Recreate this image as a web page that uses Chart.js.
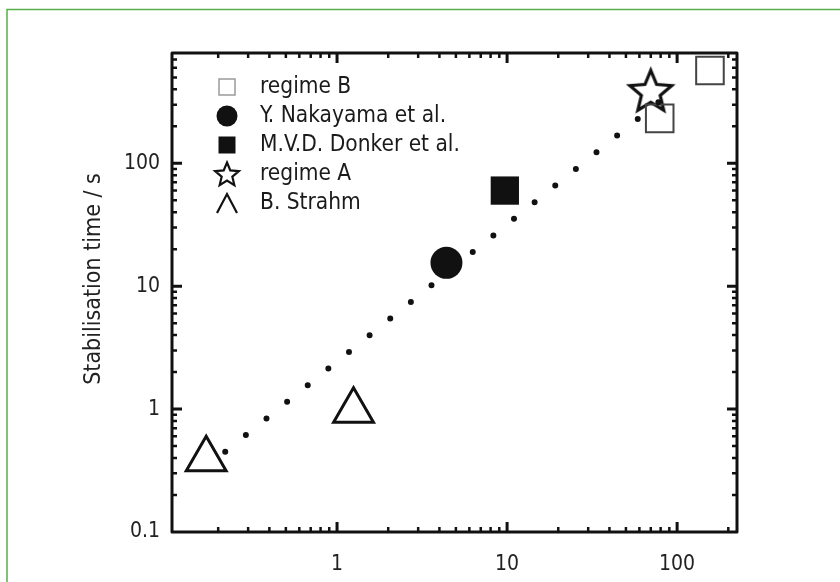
<!DOCTYPE html>
<html>
<head>
<meta charset="utf-8">
<script src="https://cdn.jsdelivr.net/npm/chart.js@4.4.1/dist/chart.umd.min.js"></script>
<style>
  html, body { margin: 0; padding: 0; background: #fff; }
  #wrap { position: relative; width: 840px; height: 582px; }
</style>
</head>
<body>
<div id="wrap"><canvas id="chart" width="840" height="582"></canvas></div>
<script>
// data (x and y both log)
const seriesLabels = ["regime B", "Y. Nakayama et al.", "M.V.D. Donker et al.", "regime A", "B. Strahm"];
const regimeB  = [{x: 156, y: 570}, {x: 79, y: 232}];
const nakayama = [{x: 4.4, y: 15.5}];
const donker   = [{x: 9.7, y: 60}];
const regimeA  = [{x: 70, y: 378}];
const strahm   = [{x: 0.17, y: 0.39}, {x: 1.25, y: 0.97}];
const fitLine  = [{x: 0.22, y: 0.45}, {x: 90, y: 370}];

const xRange = [0.107, 225];
const yRange = [0.1, 790];
const xMajor = [1, 10, 100];
const yMajor = [0.1, 1, 10, 100];
const xMinor = [0.2, 0.3, 0.4, 0.5, 0.6, 0.7, 0.8, 0.9, 2, 3, 4, 5, 6, 7, 8, 9, 20, 30, 40, 50, 60, 70, 80, 90, 200];
const yMinor = [0.2, 0.3, 0.4, 0.5, 0.6, 0.7, 0.8, 0.9, 2, 3, 4, 5, 6, 7, 8, 9, 20, 30, 40, 50, 60, 70, 80, 90, 200, 300, 400, 500, 600, 700];
const yTitle = 'Stabilisation time / s';

const FONT = "'Liberation Sans Narrow', 'Arial Narrow', 'DejaVu Sans Condensed', sans-serif";
const INK = '#111';

function drawStar(g, cx, cy, r, lw) {
  g.beginPath();
  for (let i = 0; i < 10; i++) {
    const rr = i % 2 === 0 ? r : r * 0.45;
    const a = -Math.PI / 2 + i * Math.PI / 5;
    g.lineTo(cx + rr * Math.cos(a), cy + rr * Math.sin(a));
  }
  g.closePath();
  g.fillStyle = '#fff';
  g.fill();
  g.lineWidth = lw;
  g.lineJoin = 'miter';
  g.strokeStyle = INK;
  g.stroke();
}

function starCanvas(r, lw) {
  const size = Math.ceil(2 * r + 2 * lw + 4);
  const c = document.createElement('canvas');
  c.width = size; c.height = size;
  drawStar(c.getContext('2d'), size / 2, size / 2, r, lw);
  return c;
}

// green frame round the figure
const framePlugin = {
  id: 'frame',
  beforeDraw(chart) {
    const ctx = chart.ctx;
    ctx.save();
    ctx.strokeStyle = '#58b04a';
    ctx.lineWidth = 1.5;
    ctx.strokeRect(7, 9.5, 900, 700);
    ctx.restore();
  }
};

// box + inward ticks on all four sides, y title
const innerTicks = {
  id: 'innerTicks',
  afterDraw(chart) {
    const {ctx, chartArea: a, scales: {x, y}} = chart;
    ctx.save();
    ctx.strokeStyle = INK;
    ctx.lineCap = 'butt';
    const tick = (vals, len, lw) => {
      ctx.lineWidth = lw;
      ctx.beginPath();
      vals.forEach(v => {
        const px = x.getPixelForValue(v);
        if (px > a.left + 1 && px < a.right - 1) {
          ctx.moveTo(px, a.bottom); ctx.lineTo(px, a.bottom - len);
          ctx.moveTo(px, a.top); ctx.lineTo(px, a.top + len);
        }
      });
      ctx.stroke();
    };
    const tickY = (vals, len, lw) => {
      ctx.lineWidth = lw;
      ctx.beginPath();
      vals.forEach(v => {
        const py = y.getPixelForValue(v);
        if (py > a.top + 1 && py < a.bottom - 1) {
          ctx.moveTo(a.left, py); ctx.lineTo(a.left + len, py);
          ctx.moveTo(a.right, py); ctx.lineTo(a.right - len, py);
        }
      });
      ctx.stroke();
    };
    tick(xMinor, 5, 2.5);
    tick(xMajor, 10, 3);
    tickY(yMinor, 5, 2.5);
    tickY(yMajor, 10, 3);
    ctx.lineWidth = 3;
    ctx.lineJoin = 'round';
    ctx.strokeRect(a.left, a.top, a.right - a.left, a.bottom - a.top);

    // rotated y title
    ctx.translate(94, 279);
    ctx.rotate(-Math.PI / 2);
    ctx.font = '23px ' + FONT;
    ctx.fillStyle = '#222';
    ctx.textAlign = 'center';
    ctx.textBaseline = 'middle';
    ctx.fillText(yTitle, 0, 0);
    ctx.restore();
  }
};

// legend in the upper left of the plot
const legendBox = {
  id: 'legendBox',
  afterDraw(chart) {
    const {ctx, chartArea: a} = chart;
    const sx = a.left + 55, tx = a.left + 88;
    ctx.save();
    ctx.font = '22.5px ' + FONT;
    ctx.fillStyle = '#1a1a1a';
    ctx.textBaseline = 'middle';
    seriesLabels.forEach((label, i) => {
      const yy = a.top + 34 + i * 29;
      ctx.save();
      if (i === 0) {
        ctx.strokeStyle = '#9a9a9a'; ctx.lineWidth = 1.5;
        ctx.strokeRect(sx - 8, yy - 8, 16, 16);
      } else if (i === 1) {
        ctx.fillStyle = INK;
        ctx.beginPath(); ctx.arc(sx, yy, 10.5, 0, Math.PI * 2); ctx.fill();
      } else if (i === 2) {
        ctx.fillStyle = INK;
        ctx.fillRect(sx - 8.5, yy - 8.5, 17, 17);
      } else if (i === 3) {
        drawStar(ctx, sx, yy + 1, 12.5, 2.2);
      } else {
        ctx.strokeStyle = INK; ctx.lineWidth = 2.2;
        ctx.beginPath();
        ctx.moveTo(sx - 10, yy + 10); ctx.lineTo(sx, yy - 9); ctx.lineTo(sx + 10, yy + 10);
        ctx.stroke();
      }
      ctx.restore();
      ctx.fillText(label, tx, yy);
    });
    ctx.restore();
  }
};

const logTicks = (vals) => (scale) => { scale.ticks = vals.map(v => ({value: v})); };

new Chart(document.getElementById('chart'), {
  type: 'scatter',
  data: {
    datasets: [
      {
        label: 'fit',
        data: fitLine,
        showLine: true,
        pointRadius: 0,
        borderColor: INK,
        borderWidth: 6,
        borderDash: [0, 26.5],
        borderCapStyle: 'round',
        fill: false
      },
      {
        label: seriesLabels[0],
        data: regimeB,
        pointStyle: 'rect',
        pointRadius: 19.5,
        borderWidth: 2,
        borderColor: '#444',
        backgroundColor: 'rgba(255,255,255,0)'
      },
      {
        label: seriesLabels[1],
        data: nakayama,
        pointStyle: 'circle',
        pointRadius: 16,
        borderWidth: 0,
        backgroundColor: INK
      },
      {
        label: seriesLabels[2],
        data: donker,
        pointStyle: 'rect',
        pointRadius: 20,
        borderWidth: 0,
        backgroundColor: INK
      },
      {
        label: seriesLabels[3],
        data: regimeA,
        pointStyle: starCanvas(22, 3.2),
        pointRadius: 22
      },
      {
        label: seriesLabels[4],
        data: strahm,
        pointStyle: 'triangle',
        pointRadius: 23,
        borderWidth: 3,
        borderColor: INK,
        backgroundColor: 'rgba(255,255,255,0)'
      }
    ]
  },
  options: {
    responsive: false,
    animation: false,
    events: [],
    layout: { padding: { top: 53, right: 103, bottom: 0, left: 0 } },
    plugins: {
      legend: { display: false },
      tooltip: { enabled: false }
    },
    scales: {
      x: {
        type: 'logarithmic',
        min: xRange[0],
        max: xRange[1],
        afterBuildTicks: logTicks(xMajor),
        afterFit: (s) => { s.height = 50; },
        grid: { display: false, drawTicks: false },
        border: { display: false },
        ticks: {
          color: '#222',
          padding: 20,
          maxRotation: 0,
          font: { family: FONT, size: 21 },
          callback: (v) => String(v)
        }
      },
      y: {
        type: 'logarithmic',
        min: yRange[0],
        max: yRange[1],
        afterBuildTicks: logTicks(yMajor),
        afterFit: (s) => { s.width = 172; },
        grid: { display: false, drawTicks: false },
        border: { display: false },
        ticks: {
          color: '#222',
          padding: 12,
          font: { family: FONT, size: 21 },
          callback: (v) => String(v)
        }
      }
    }
  },
  plugins: [framePlugin, innerTicks, legendBox]
});
</script>
</body>
</html>
